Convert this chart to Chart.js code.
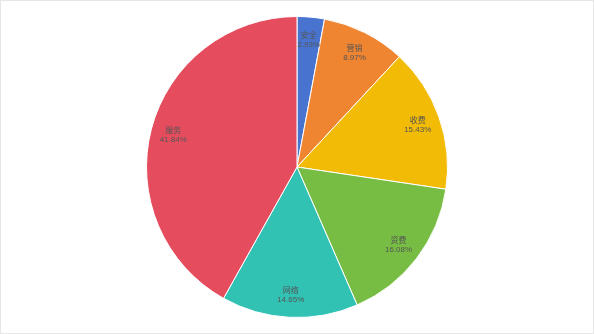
<!DOCTYPE html>
<html>
<head>
<meta charset="utf-8">
<script src="https://cdn.jsdelivr.net/npm/chart.js@4"></script>
<style>
  html, body { margin: 0; padding: 0; background: #fff; }
  #wrap { width: 594px; height: 334px; box-sizing: border-box; border: 1px solid #e6e6e6; position: relative; }
</style>
</head>
<body>
<div id="wrap"><canvas id="pieChart"></canvas></div>
<script>
const categories = ['安全', '营销', '收费', '资费', '网络', '服务'];
const shares = [2.93, 8.97, 15.43, 16.08, 14.65, 41.84];
const sliceColors = ['#4874CF', '#EF8431', '#F2BB05', '#77BD43', '#31C2B4', '#E54D5F'];

// draws name + percentage inside each slice
const sliceLabels = {
    id: 'sliceLabels',
    afterDatasetsDraw(chart) {
        const ctx = chart.ctx;
        const meta = chart.getDatasetMeta(0);
        ctx.save();
        ctx.fillStyle = '#555';
        ctx.textAlign = 'center';
        ctx.textBaseline = 'middle';
        meta.data.forEach((arc, i) => {
            const mid = (arc.startAngle + arc.endAngle) / 2;
            const r = arc.outerRadius * 0.85;
            const x = arc.x + Math.cos(mid) * r;
            const y = arc.y + Math.sin(mid) * r;
            ctx.font = '8px "Noto Sans CJK SC", sans-serif';
            ctx.fillText(categories[i], x, y - 5);
            ctx.font = '8px "Liberation Sans", Arial, sans-serif';
            ctx.fillText(shares[i].toFixed(2) + '%', x, y + 5);
        });
        ctx.restore();
    }
};

new Chart(document.getElementById('pieChart'), {
    type: 'pie',
    data: {
        labels: categories,
        datasets: [{
            data: shares,
            backgroundColor: sliceColors,
            borderColor: '#fff',
            borderWidth: 1
        }]
    },
    options: {
        responsive: true,
        maintainAspectRatio: false,
        animation: false,
        layout: { padding: { top: 15, bottom: 15 } },
        plugins: {
            legend: { display: false },
            tooltip: { enabled: false }
        }
    },
    plugins: [sliceLabels]
});
</script>
</body>
</html>
